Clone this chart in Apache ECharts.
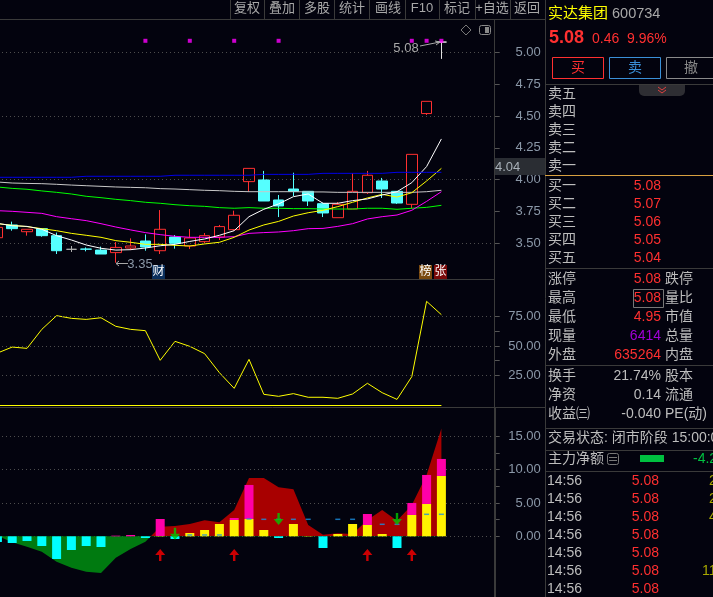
<!DOCTYPE html>
<html>
<head>
<meta charset="utf-8">
<style>
html, body { margin: 0; padding: 0; background: #03030e; }
#wrap { position: relative; width: 713px; height: 597px; overflow: hidden; }
/* oldest candle sits half off the left edge, so the canvas starts 10px further left */
#chart { position: absolute; left: -10px; top: 0; width: 723px; height: 597px; }
</style>
<script src="https://cdn.jsdelivr.net/npm/echarts@6/dist/echarts.min.js"></script>
</head>
<body>
<div id="wrap"><div id="chart"></div></div>
<script>
const categories = ['1','2','3','4','5','6','7','8','9','10','11','12','13','14','15','16','17','18','19','20','21','22','23','24','25','26','27','28','29','30','31','','',''];

// k line
const opens = [3.545,3.645,3.592,3.616,3.561,3.454,3.456,3.448,3.428,3.464,3.519,3.443,3.55,3.48,3.514,3.55,3.608,3.985,3.998,3.841,3.927,3.909,3.812,3.702,3.77,3.898,3.99,3.909,3.807,4.519,5.08];
const closes = [3.626,3.616,3.611,3.561,3.443,3.454,3.455,3.417,3.469,3.48,3.472,3.611,3.501,3.543,3.561,3.632,3.721,4.089,3.833,3.794,3.909,3.833,3.739,3.807,3.909,4.035,3.927,3.817,4.199,4.615,5.08];
const lows = [3.54,3.6,3.561,3.553,3.417,3.433,3.438,3.417,3.349,3.448,3.443,3.417,3.459,3.456,3.501,3.527,3.6,3.906,3.833,3.707,3.872,3.794,3.707,3.702,3.77,3.888,3.857,3.81,3.775,4.508,4.948];
const highs = [3.63,3.671,3.611,3.621,3.585,3.48,3.469,3.475,3.511,3.54,3.571,3.762,3.566,3.613,3.582,3.645,3.757,4.089,4.069,3.88,4.055,3.909,3.82,3.825,4.05,4.069,4.014,3.909,4.199,4.615,5.08];

// moving averages
const maWhite = [3.658,3.639,3.634,3.611,3.561,3.527,3.488,3.462,3.448,3.451,3.464,3.482,3.493,3.516,3.535,3.564,3.6,3.71,3.768,3.81,3.867,3.888,3.815,3.815,3.836,3.849,3.88,3.906,3.977,4.103,4.32];
const maYellow = [3.655,3.642,3.632,3.616,3.6,3.579,3.564,3.548,3.522,3.509,3.493,3.493,3.485,3.48,3.496,3.509,3.548,3.605,3.645,3.673,3.715,3.741,3.76,3.789,3.823,3.857,3.885,3.864,3.898,3.99,4.089];
const maMagenta = [3.757,3.752,3.744,3.736,3.71,3.694,3.679,3.655,3.629,3.606,3.585,3.569,3.556,3.548,3.548,3.548,3.553,3.579,3.585,3.59,3.6,3.616,3.618,3.634,3.655,3.692,3.71,3.723,3.76,3.83,3.906];
const maGreen = [3.943,3.932,3.925,3.912,3.901,3.888,3.87,3.859,3.846,3.836,3.823,3.815,3.804,3.796,3.791,3.781,3.776,3.781,3.776,3.776,3.773,3.773,3.77,3.77,3.77,3.776,3.776,3.768,3.776,3.783,3.799];
const maGray = [3.982,3.974,3.971,3.969,3.964,3.958,3.953,3.948,3.943,3.94,3.937,3.93,3.927,3.922,3.917,3.914,3.909,3.906,3.906,3.906,3.906,3.904,3.904,3.901,3.901,3.901,3.901,3.901,3.901,3.906,3.917];
const maBlue = [4.019,4.019,4.019,4.019,4.019,4.019,4.027,4.027,4.027,4.027,4.027,4.027,4.035,4.035,4.035,4.035,4.035,4.035,4.042,4.042,4.042,4.042,4.05,4.05,4.05,4.05,4.05,4.058,4.058,4.058,4.058];
const topMarks = [[10,5.09],[13,5.09],[16,5.09],[19,5.09],[28,5.09],[29,5.09],[30,5.09]];

// middle panel
const oscLine = [44,49.1,48,64.2,75.9,73.6,72.7,74.1,66.8,64.2,63.1,37.8,54,49.7,43.5,27.3,13.9,38.6,8.8,7.1,9.4,6.3,6.3,5.4,9.1,18.2,10.2,4.5,23.9,88.1,76.7];
const oscFloor = -0.9;

// bottom panel
const flowArea = [0.1,-0.9,-1.55,-2.3,-3.8,-4.7,-5.3,-5.5,-3.2,-1.9,-0.8,1.45,1.55,1.85,2.4,2.1,3.95,8.75,8.75,7.35,7.05,1.7,0.25,0.45,0.35,2.45,3.95,2.35,4.7,9.2,16.15];
const barsYellow = [null,null,null,null,null,null,null,null,null,null,null,0.05,null,0.5,0.95,1.85,2.45,2.6,0.95,null,1.85,0.05,null,0.35,1.85,1.7,0.35,null,3.2,4.85,9.05];
const barsPink = [null,null,null,null,null,null,null,null,0.1,0.2,null,2.55,null,null,null,null,0.3,5.1,null,null,null,null,null,null,null,1.65,null,null,1.8,4.35,2.55];
const barsCyan = [-0.85,-1,-0.7,-1.45,-3.4,-2.05,-1.45,-1.6,null,null,-0.25,null,-0.4,null,null,null,null,null,null,-0.25,null,null,-1.75,null,null,null,null,-1.75,null,null,null];
const blueDashes = [[13,0.2],[14,0.2],[15,0.2],[17,2.6],[18,2.55],[19,2.55],[20,2.55],[21,2.55],[23,2.55],[24,2.55],[26,1.8],[27,1.8],[29,3.3],[30,3.3]];
const upArrows = [[11,-2.8],[16,-2.8],[25,-2.8],[28,-2.8]];
const downArrows = [[12,0.4],[19,2.6],[27,2.6]];

// axis ticks
const priceLabels = [3.5,3.75,4,4.25,4.5,4.75,5];
const priceGrid = [3.5,4,4.5,5];
const oscLabels = [25,50,75];
const oscTicks = [25,37.5,50,62.5,75];
const flowLabels = [0,5,10,15];
const flowTicks = [0,2.5,5,7.5,10,12.5,15];

// side panel text
const toolbar = ['复权','叠加','多股','统计','画线','F10','标记','+自选','返回'];
const toolbarX = [247,282,317,352,388,422,457,492,527];
const toolbarLines = [230,264,299,334,369,405,439,475,510];
const askLabels = ['卖五','卖四','卖三','卖二','卖一'];
const bidLabels = ['买一','买二','买三','买四','买五'];
const bidPrices = ['5.08','5.07','5.06','5.05','5.04'];
const quoteLabels = ['涨停','最高','最低','现量','外盘'];
const quoteValues = ['5.08','5.08','4.95','6414','635264'];
const quoteColors = ['#ff3030','#ff3030','#ff3030','#a000d8','#ff3030'];
const quoteRight = ['跌停','量比','市值','总量','内盘'];
const stockLabels = ['换手','净资','收益㈢'];
const stockValues = ['21.74%','0.14','-0.040'];
const stockRight = ['股本','流通','PE(动)'];
const tickTimes = ['14:56','14:56','14:56','14:56','14:56','14:56','14:56'];
const tickPrices = ['5.08','5.08','5.08','5.08','5.08','5.08','5.08'];
const tickVolumes = ['2','2','4','','','11',''];

const FONT = '"Liberation Sans","Noto Sans CJK SC",sans-serif';
const axisColor = '#4a4a4a';
const labelColor = '#8b98a8';
const textColor = '#bdbdbd';
const RED = '#ff3030';

const arrowPath = 'path://M5 0L10 6L6.2 6L6.2 12L3.8 12L3.8 6L0 6Z';

function txt(x, y, text, fill, size, align, weight) {
    return {
        type: 'text', silent: true, z: 20,
        style: {
            x: x, y: y, text: text, fill: fill,
            font: (weight || 'normal') + ' ' + (size || 14) + 'px ' + FONT,
            align: align || 'left', verticalAlign: 'middle',
            textAlign: align || 'left', textVerticalAlign: 'middle'
        }
    };
}

function ln(x1, y1, x2, y2, color, width) {
    return {
        type: 'line', silent: true, z: 19,
        shape: {x1: x1, y1: y1, x2: x2, y2: y2},
        style: {stroke: color || axisColor, lineWidth: width || 1}
    };
}

function box(x, y, w, h, stroke, fill, r) {
    return {
        type: 'rect', silent: true, z: 18,
        shape: {x: x, y: y, width: w, height: h, r: r || 0},
        style: {stroke: stroke || null, fill: fill || 'none', lineWidth: 1}
    };
}

function poly(points, color) {
    return {type: 'polyline', silent: true, z: 19, shape: {points: points}, style: {stroke: color, fill: 'none'}};
}

function badge(x, text, bg) {
    return [box(x, 265, 13, 14, null, bg), txt(x + 6.5, 272, text, '#fff', 12, 'center')];
}

function buildGraphic() {
    let els = [];
    // frame lines
    els.push(ln(0, 19.5, 545, 19.5, '#3a3a3a'));
    els.push(ln(0, 279.5, 494, 279.5, '#3a3a3a'));
    els.push(ln(0, 407.5, 545, 407.5, '#3a3a3a', 1));
    els.push(ln(545.5, 0, 545.5, 597, '#3a3a3a'));
    els.push(ln(494.5, 19, 494.5, 407, '#3a3a3a'));
    els.push(ln(495, 407, 495, 597, '#3a3a3a', 2));
    toolbarLines.forEach(x => els.push(ln(x + 0.5, 0, x + 0.5, 19, '#3a3a3a')));
    toolbar.forEach((t, i) => els.push(txt(toolbarX[i], 8.5, t, '#a8a8a8', 13, 'center')));

    // chart corner icons
    els.push({type: 'polygon', silent: true, z: 19, shape: {points: [[466, 25], [471, 30], [466, 35], [461, 30]]}, style: {stroke: '#777', fill: 'none'}});
    els.push(box(479.5, 25.5, 11, 9, '#888', 'none', 2));
    els.push(box(485, 27, 4, 6, null, '#888'));

    // high and low notes
    els.push(txt(406, 48.5, '5.08', '#a8a8a8', 13, 'center'));
    els.push(ln(420, 46, 440, 42, '#a8a8a8'));
    els.push(poly([[435, 41], [440, 42], [436, 45]], '#a8a8a8'));
    els.push(txt(140, 264, '3.35', '#8b98a8', 13, 'center'));
    els.push(ln(116, 263.5, 128, 263.5, '#a8a8a8'));
    els.push(poly([[119, 261], [116, 263.5], [119, 266]], '#a8a8a8'));
    els = els.concat(badge(152, '财', '#0b2f5c'), badge(419, '榜', '#7a4a10'), badge(434, '张', '#7a0a0a'));

    // last price tag
    els.push(box(495, 158, 50, 17, null, '#2a2d33'));
    els.push(txt(495, 167, '4.04', '#a8b0b8', 13));

    // quote head
    els.push(txt(548, 14, '实达集团', '#ffff00', 15));
    els.push(txt(612, 14, '600734', '#a8a8a8', 14.5));
    els.push(txt(549, 38, '5.08', RED, 18, 'left', 'bold'));
    els.push(txt(592, 39, '0.46', RED, 14));
    els.push(txt(627, 39, '9.96%', RED, 14));
    els.push(box(552.5, 57.5, 51, 21, RED));
    els.push(txt(578, 68, '买', RED, 14, 'center'));
    els.push(box(609.5, 57.5, 51, 21, '#3a90d8'));
    els.push(txt(635, 68, '卖', '#3a90d8', 14, 'center'));
    els.push(box(666.5, 57.5, 60, 21, '#8a8a8a'));
    els.push(txt(691, 68, '撤', '#8a8a8a', 14, 'center'));
    els.push(ln(545, 84.5, 713, 84.5, '#3a3a3a'));
    els.push(box(639, 85, 46, 11, null, '#2e2e33', [0, 0, 5, 5]));
    els.push(poly([[658, 87], [662, 90], [666, 87]], '#e04040'));
    els.push(poly([[658, 90], [662, 93], [666, 90]], '#e04040'));

    // order book
    askLabels.forEach((t, i) => els.push(txt(548, 94 + i * 18, t, textColor)));
    els.push(ln(545, 175.5, 713, 175.5, '#d8a040'));
    bidLabels.forEach((t, i) => {
        els.push(txt(548, 186 + i * 18, t, textColor));
        els.push(txt(661, 186 + i * 18, bidPrices[i], RED, 14, 'right'));
    });
    els.push(ln(545, 268.5, 713, 268.5, '#3a3a3a'));

    // quote table
    quoteLabels.forEach((t, i) => {
        const y = 279 + i * 19;
        els.push(txt(548, y, t, textColor));
        els.push(txt(661, y, quoteValues[i], quoteColors[i], 14, 'right'));
        els.push(txt(665, y, quoteRight[i], textColor));
    });
    els.push(box(633.5, 289.5, 30, 18, '#777'));
    els.push(ln(545, 365.5, 713, 365.5, '#3a3a3a'));
    stockLabels.forEach((t, i) => {
        const y = 376 + i * 19;
        els.push(txt(548, y, t, textColor));
        els.push(txt(661, y, stockValues[i], textColor, 14, 'right'));
        els.push(txt(665, y, stockRight[i], textColor));
    });
    els.push(ln(545, 428.5, 713, 428.5, '#3a3a3a'));
    els.push(txt(548, 438, '交易状态: 闭市阶段 15:00:00', textColor));
    els.push(ln(545, 450.5, 713, 450.5, '#3a3a3a'));
    els.push(txt(548, 459, '主力净额', textColor));
    els.push(box(607.5, 453.5, 11, 11, '#777', 'none', 2));
    els.push(ln(609, 457.5, 617, 457.5, '#777'));
    els.push(ln(609, 460.5, 617, 460.5, '#777'));
    els.push(box(640, 455, 24, 7, null, '#00c040'));
    els.push(txt(693, 459, '-4.2', '#00c040', 14));
    els.push(ln(545, 471.5, 713, 471.5, '#3a3a3a'));

    // tick list
    tickTimes.forEach((t, i) => {
        const y = 481 + i * 18;
        els.push(txt(547, y, t, textColor));
        els.push(txt(659, y, tickPrices[i], RED, 14, 'right'));
        if (tickVolumes[i]) els.push(txt(tickVolumes[i].length > 1 ? 702 : 709, y, tickVolumes[i], '#a8a800'));
    });
    return [{type: 'group', x: 10, y: 0, children: els}];
}

function yAxisFor(gridIndex, min, max, labels, ticks) {
    return {
        type: 'value', gridIndex: gridIndex, position: 'right', offset: 1.5,
        min: min, max: max, scale: true,
        axisLine: {show: false},
        axisTick: {show: true, length: 5, customValues: ticks, lineStyle: {color: '#555'}},
        axisLabel: {
            show: true, customValues: labels, margin: 46, align: 'right',
            color: labelColor, fontSize: 13, fontFamily: FONT,
            formatter: v => v.toFixed(2)
        },
        splitLine: {show: false}
    };
}

function dotted(values) {
    return {
        silent: true, symbol: 'none', animation: false, z: 1,
        label: {show: false},
        lineStyle: {type: [1, 3], color: '#4d4d4d', width: 1},
        data: values.map(v => ({yAxis: v}))
    };
}

function maSeries(name, data, color) {
    return {
        name: name, type: 'line', xAxisIndex: 0, yAxisIndex: 0, data: data,
        symbol: 'none', lineStyle: {color: color, width: 1}, z: 4
    };
}

const candleData = opens.map((o, i) => {
    const item = {value: [o, closes[i], lows[i], highs[i]]};
    // limit-up day and flat day are drawn in neutral colours
    if (i === 30 || i === 5) {
        const c = i === 30 ? '#e0e0e0' : '#b0b0b0';
        item.itemStyle = {color: c, color0: c, borderColor: c, borderColor0: c};
    }
    return item;
});

// hard colour change at zero inside the area's bounding box
const flowMax = Math.max.apply(null, flowArea);
const flowMin = Math.min.apply(null, flowArea);
const zeroStop = flowMax / (flowMax - flowMin);

const option = {
    backgroundColor: '#03030e',
    animation: false,
    graphic: buildGraphic(),
    grid: [
        {left: 0, width: 503.2, top: 19, height: 260},
        {left: 0, width: 503.2, top: 280, height: 127},
        {left: 0, width: 503.2, top: 407, height: 190}
    ],
    xAxis: [0, 1, 2].map(i => ({type: 'category', gridIndex: i, data: categories, show: false})),
    yAxis: [
        yAxisFor(0, 3.221, 5.261, priceLabels, priceLabels),
        yAxisFor(1, -2, 106.3, oscLabels, oscTicks),
        yAxisFor(2, -9.1, 19.39, flowLabels, flowTicks)
    ],
    series: [
        {
            name: 'K', type: 'candlestick', xAxisIndex: 0, yAxisIndex: 0, data: candleData,
            barWidth: 11, z: 3,
            itemStyle: {color: 'rgba(0,0,0,0)', color0: '#55ffff', borderColor: RED, borderColor0: '#55ffff', borderWidth: 1},
            markLine: dotted(priceGrid)
        },
        maSeries('MA1', maGray, '#c8c8c8'),
        maSeries('MA2', maGreen, '#00ff00'),
        maSeries('MA3', maMagenta, '#ff00ff'),
        maSeries('MA4', maYellow, '#ffff00'),
        maSeries('MA5', maWhite, '#ffffff'),
        maSeries('MA6', maBlue, '#0000e8'),
        {
            name: 'marks', type: 'scatter', xAxisIndex: 0, yAxisIndex: 0, data: topMarks,
            symbol: 'rect', symbolSize: 4, itemStyle: {color: '#ff00ff'}, z: 5
        },
        {
            name: 'osc', type: 'line', xAxisIndex: 1, yAxisIndex: 1, data: oscLine,
            symbol: 'none', lineStyle: {color: '#ffff00', width: 1},
            markLine: {
                silent: true, symbol: 'none', animation: false,
                label: {show: false},
                lineStyle: {type: 'solid', color: '#ffff00', width: 1},
                data: [
                    {yAxis: 25, lineStyle: {type: [1, 3], color: '#4d4d4d'}},
                    {yAxis: 50, lineStyle: {type: [1, 3], color: '#4d4d4d'}},
                    {yAxis: 75, lineStyle: {type: [1, 3], color: '#4d4d4d'}},
                    [{coord: [0, oscFloor]}, {coord: [30, oscFloor]}]
                ]
            }
        },
        {
            name: 'flow', type: 'line', xAxisIndex: 2, yAxisIndex: 2, data: flowArea,
            symbol: 'none', lineStyle: {width: 0}, z: 2,
            areaStyle: {
                opacity: 1,
                color: {
                    type: 'linear', x: 0, y: 0, x2: 0, y2: 1,
                    colorStops: [
                        {offset: 0, color: '#a80000'},
                        {offset: zeroStop, color: '#a80000'},
                        {offset: zeroStop, color: '#007a10'},
                        {offset: 1, color: '#007a10'}
                    ]
                }
            },
            markLine: dotted(flowLabels)
        },
        {name: 'yellow', type: 'bar', xAxisIndex: 2, yAxisIndex: 2, stack: 'flow', data: barsYellow, barWidth: 9, itemStyle: {color: '#fff200'}, z: 3},
        {name: 'pink', type: 'bar', xAxisIndex: 2, yAxisIndex: 2, stack: 'flow', data: barsPink, barWidth: 9, itemStyle: {color: '#ff00a8'}, z: 3},
        {name: 'cyan', type: 'bar', xAxisIndex: 2, yAxisIndex: 2, stack: 'flow', data: barsCyan, barWidth: 9, itemStyle: {color: '#00ffff'}, z: 3},
        {
            name: 'dash', type: 'scatter', xAxisIndex: 2, yAxisIndex: 2, data: blueDashes,
            symbol: 'rect', symbolSize: [5, 1.5], itemStyle: {color: '#1a8fe0'}, z: 4
        },
        {
            name: 'up', type: 'scatter', xAxisIndex: 2, yAxisIndex: 2, data: upArrows,
            symbol: arrowPath, symbolSize: [10, 12], itemStyle: {color: '#ff0000'}, z: 5
        },
        {
            name: 'down', type: 'scatter', xAxisIndex: 2, yAxisIndex: 2, data: downArrows,
            symbol: arrowPath, symbolRotate: 180, symbolSize: [10, 12], itemStyle: {color: '#00c800'}, z: 5
        }
    ]
};

const chart = echarts.init(document.getElementById('chart'));
chart.setOption(option);
</script>
</body>
</html>
